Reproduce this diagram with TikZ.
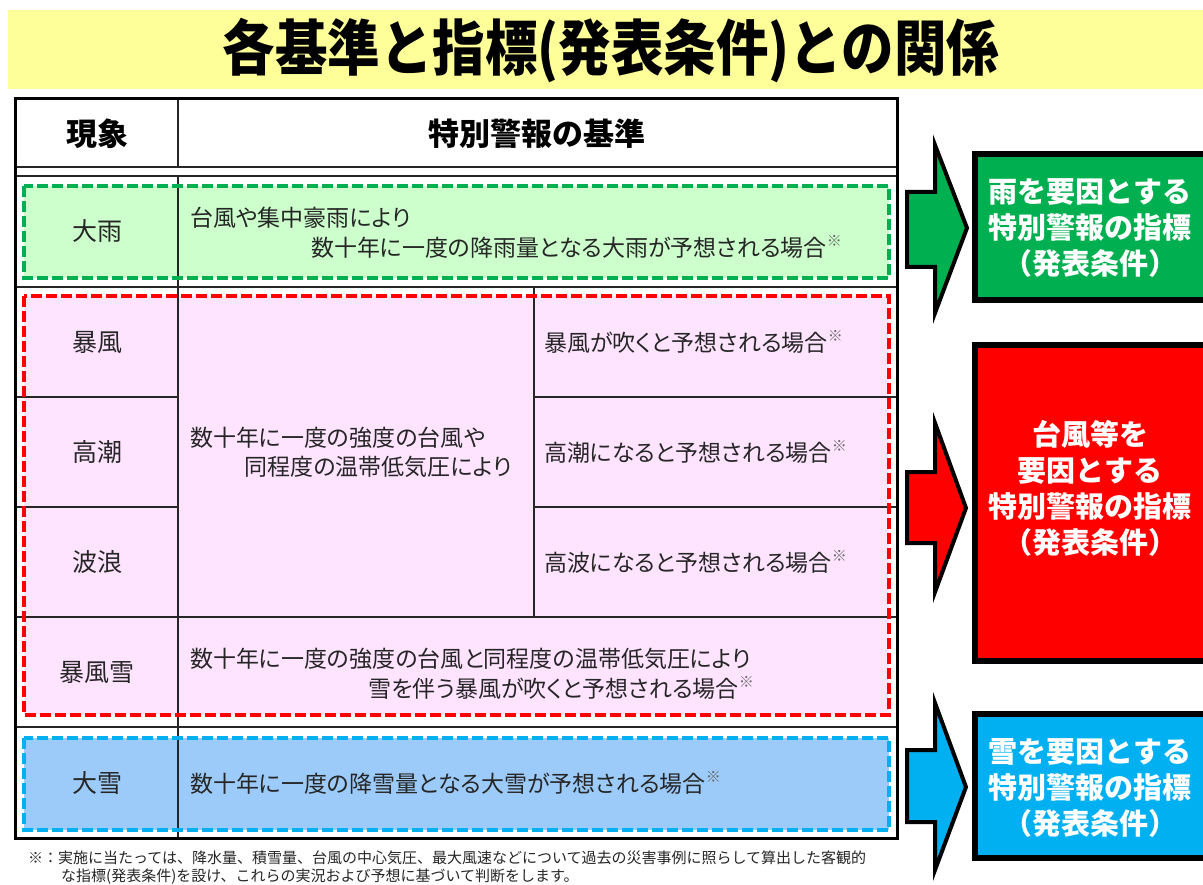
\documentclass[tikz,border=0pt]{standalone}
\usepackage{graphicx}
\usepackage{fontspec}
\newfontfamily\jp{Noto Sans CJK JP}
\newfontfamily\jpp[RawFeature=+palt]{Noto Sans CJK JP}
\definecolor{titlebg}{HTML}{FFFF99}
\definecolor{gfill}{HTML}{CCFFCC}
\definecolor{pfill}{HTML}{FFE4FF}
\definecolor{bfill}{HTML}{9CCBFA}
\definecolor{gline}{HTML}{00B050}
\definecolor{rline}{HTML}{FF0000}
\definecolor{bline}{HTML}{00B0F0}
\definecolor{txt}{HTML}{262626}
\newcommand{\kome}{\raisebox{0.4em}{\fontsize{15}{15}\selectfont\color{black!60}※}}
\tikzset{
  x=1pt,y=-1pt,
  grid/.style={draw=black!85,line width=1.3pt},
  groupbox/.style={line width=3.6pt,dash pattern=on 11pt off 4pt},
  lbl/.style={inner sep=0pt,text=txt,font=\jpp\fontsize{25}{25}\selectfont},
  body/.style={inner sep=0pt,text=txt,font=\jpp\fontsize{23}{23}\selectfont},
  head/.style={inner sep=0pt,text=black,font=\jp\bfseries\fontsize{31}{31}\selectfont},
  sidebox/.style={draw=black,line width=6pt,inner sep=0pt},
  sidetxt/.style={inner sep=0pt,text=white,align=center,font=\jp\bfseries\fontsize{29}{36}\selectfont},
  blockarrow/.style={draw=black,line width=4pt,line join=miter},
  note/.style={inner sep=0pt,text=txt,font=\jp\fontsize{15}{15}\selectfont}
}
\begin{document}
\begin{tikzpicture}
\useasboundingbox (0,0) rectangle (1203,885);
\fill[white] (0,0) rectangle (1203,885);
% title band
\fill[titlebg] (8,10) rectangle (1203,89);
\node[inner sep=0pt] (title) at (611,51) {\jp\bfseries\fontsize{53}{53}\selectfont\scalebox{0.99}[1.14]{各基準と指標(発表条件)との関係}};
% group fills
\fill[gfill] (24,186) rectangle (889,278);
\fill[pfill] (24,296) rectangle (889,715);
\fill[bfill] (24,738) rectangle (889,830);
% grid
\draw[grid] (15,167) -- (897,167);
\draw[grid] (15,176) -- (897,176);
\draw[grid] (178,99) -- (178,167);
\draw[grid] (178,176) -- (178,838);
\draw[grid] (15,287) -- (897,287);
\draw[grid] (15,397) -- (178,397);
\draw[grid] (534,397) -- (897,397);
\draw[grid] (15,507) -- (178,507);
\draw[grid] (534,507) -- (897,507);
\draw[grid] (15,617) -- (897,617);
\draw[grid] (534,287) -- (534,617);
\draw[grid] (15,727) -- (897,727);
% dashed group borders
\draw[groupbox,gline] (24,186) rectangle (889,278);
\draw[groupbox,rline] (24,296) rectangle (889,715);
\draw[groupbox,bline] (24,738) rectangle (889,830);
% outer frame
\draw[black,line width=3pt] (15,99) rectangle (897,838);
% header
\node[head] (h1) at (97,134) {現象};
\node[head] (h2) at (537,134) {特別警報の基準};
% labels
\node[lbl] (l1) at (97,231) {大雨};
\node[lbl] (l2) at (97,342) {暴風};
\node[lbl] (l3) at (97,452) {高潮};
\node[lbl] (l4) at (97,562) {波浪};
\node[lbl] (l5) at (97,672) {暴風雪};
\node[lbl] (l6) at (97,783) {大雪};
% body texts
\node[body,anchor=west] (t1a) at (190,218) {台風や集中豪雨により};
\node[body,anchor=east] (t1b) at (842,247) {数十年に一度の降雨量となる大雨が予想される場合\kome};
\node[body,anchor=west] (tma) at (190,438) {数十年に一度の強度の台風や};
\node[body,anchor=east] (tmb) at (512,467) {同程度の温帯低気圧により};
\node[body,anchor=west] (t2) at (544,342) {暴風が吹くと予想される場合\kome};
\node[body,anchor=west] (t3) at (544,452) {高潮になると予想される場合\kome};
\node[body,anchor=west] (t4) at (544,562) {高波になると予想される場合\kome};
\node[body,anchor=west] (t5a) at (190,659) {数十年に一度の強度の台風と同程度の温帯低気圧により};
\node[body,anchor=east] (t5b) at (754,688) {雪を伴う暴風が吹くと予想される場合\kome};
\node[body,anchor=west] (t6) at (190,783) {数十年に一度の降雪量となる大雪が予想される場合\kome};
% footnote
\node[note,anchor=west] (n1) at (28,858) {※：実施に当たっては、降水量、積雪量、台風の中心気圧、最大風速などについて過去の災害事例に照らして算出した客観的};
\node[note,anchor=west] (n2) at (61,877) {な指標(発表条件)を設け、これらの実況および予想に基づいて判断をします。};
% block arrows
\draw[blockarrow,fill=gline] (907,192) -- (935,192) -- (935,145) -- (967,228) -- (935,313) -- (935,267) -- (907,267) -- cycle;
\draw[blockarrow,fill=rline] (907,472) -- (935,472) -- (935,423) -- (966,508) -- (935,592) -- (935,543) -- (907,543) -- cycle;
\draw[blockarrow,fill=bline] (907,750) -- (935,750) -- (935,703) -- (966,787) -- (935,870) -- (935,822) -- (907,822) -- cycle;
% side boxes
\draw[sidebox,fill=gline] (975,154) rectangle (1212,300);
\draw[sidebox,fill=rline] (975,345) rectangle (1212,661);
\draw[sidebox,fill=bline] (975,714) rectangle (1212,858);
\node[sidetxt] (s1) at (1090,228) {雨を要因とする\\特別警報の指標\\（発表条件）};
\node[sidetxt] (s2) at (1090,488) {台風等を\\要因とする\\特別警報の指標\\（発表条件）};
\node[sidetxt] (s3) at (1090,788) {雪を要因とする\\特別警報の指標\\（発表条件）};
\end{tikzpicture}
\end{document}
